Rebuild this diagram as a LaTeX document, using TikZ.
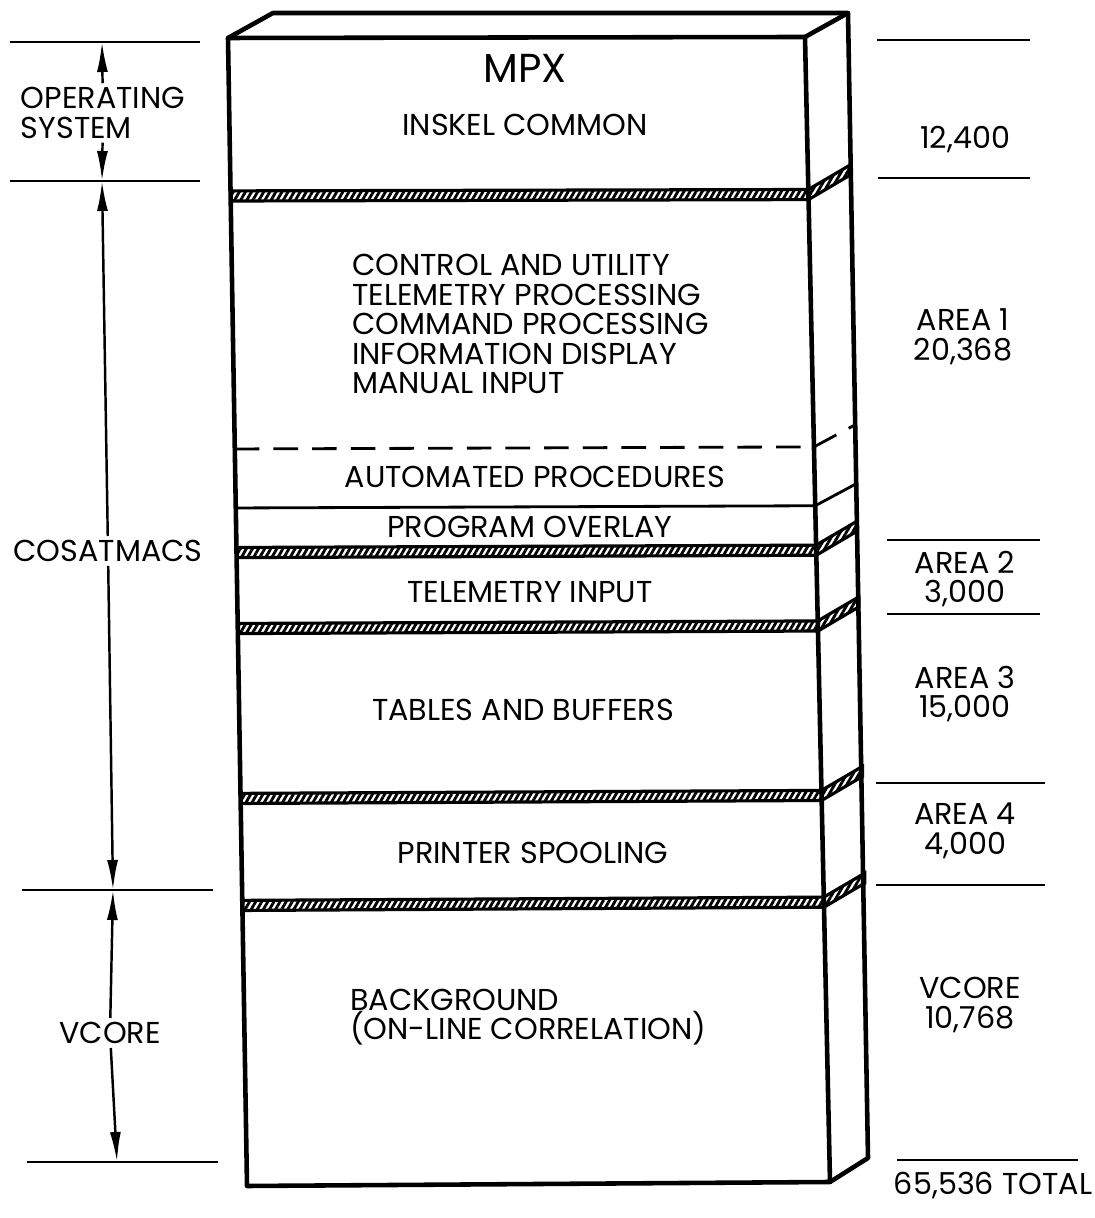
\documentclass[tikz,border=0pt]{standalone}
\usepackage{fontspec}
\setmainfont{Poppins}
\usetikzlibrary{calc,arrows.meta,patterns.meta}

\tikzset{
  edge/.style={line width=1.3pt, line join=round},
  band/.style={line width=0.9pt, pattern={Lines[angle=60,distance=1.5pt,line width=0.8pt]}},
  ruler/.style={line width=0.7pt},
  dim/.style={line width=0.7pt, -{Latex[length=3mm,width=1.1mm]}},
  lbl/.style={font=\fontsize{8.6}{8.4}\selectfont, inner sep=1pt},
}

\begin{document}
\begin{tikzpicture}
\useasboundingbox (0,0) rectangle (10.95,12.18);

% corners of the front face (the scan leans a little)
\coordinate (tl) at (2.28,11.80);
\coordinate (bl) at (2.47,0.32);
\coordinate (tr) at (8.05,11.81);
\coordinate (br) at (8.30,0.36);

% the block
\draw[edge] (tl) -- (tr) -- (br) -- (bl) -- cycle;
\draw[edge] (tl) -- ++(0.45,0.25) -- ($(tr)+(0.43,0.24)$) -- ($(br)+(0.38,0.24)$) -- (br);
\draw[edge] (tr) -- ++(0.43,0.24);

% hatched partitions
\foreach \a/\b in {0.1332/0.1420, 0.4438/0.4526, 0.5100/0.5188, 0.6580/0.6668, 0.7512/0.7600}{
  \draw[band] ($(tl)!\a!(bl)$) -- ($(tr)!\a!(br)$) -- ($(tr)!\b!(br)$) -- ($(tl)!\b!(bl)$) -- cycle;
  \draw[band] ($(tr)!\a!(br)$) -- ++(0.41,0.24) -- ++(0,-0.10) -- ($(tr)!\b!(br)$) -- cycle;
}
\draw[line width=0.8pt, dash pattern=on 7pt off 4pt] ($(tl)!0.358!(bl)$) -- ($(tr)!0.358!(br)$) -- ++(0.41,0.22);
\draw[line width=0.8pt] ($(tl)!0.4094!(bl)$) -- ($(tr)!0.4094!(br)$) -- ++(0.41,0.22);

% contents
\node[lbl, font=\fontsize{11.5}{12}\selectfont] (mpx) at (5.25,11.50) {MPX};
\node[lbl] (inskel) at (5.25,10.93) {INSKEL COMMON};
\node[lbl, align=left, anchor=west] (progs) at (3.48,8.94) {CONTROL AND UTILITY\\TELEMETRY PROCESSING\\COMMAND PROCESSING\\INFORMATION DISPLAY\\MANUAL INPUT};
\node[lbl] (auto) at (5.35,7.41) {AUTOMATED PROCEDURES};
\node[lbl] (overlay) at (5.30,6.91) {PROGRAM OVERLAY};
\node[lbl] (tlm) at (5.30,6.26) {TELEMETRY INPUT};
\node[lbl] (tables) at (5.23,5.08) {TABLES AND BUFFERS};
\node[lbl] (spool) at (5.33,3.65) {PRINTER SPOOLING};
\node[lbl, align=left, anchor=west] (bkg) at (3.46,2.01) {BACKGROUND\\(ON-LINE CORRELATION)};

% left side: extents
\draw[ruler] (0.10,11.76) -- (2.00,11.76);
\draw[ruler] (0.10,10.37) -- (2.00,10.37);
\draw[ruler] (0.22,3.28) -- (2.13,3.28);
\draw[ruler] (0.27,0.56) -- (2.18,0.56);
\coordinate (os top) at (1.02,11.76);
\coordinate (os bot) at (1.02,10.37);
\coordinate (cos bot) at (1.13,3.28);
\coordinate (vc bot) at (1.17,0.56);
\node[lbl, align=left] (os) at (1.03,11.05) {OPERATING\\SYSTEM};
\node[lbl] (cos) at (1.08,6.67) {COSATMACS};
\node[lbl] (vc) at (1.10,1.85) {VCORE};
\draw[dim] (os) -- (os top);
\draw[dim] (os) -- (os bot);
\draw[dim] (cos) -- (os bot);
\draw[dim] (cos) -- (cos bot);
\draw[dim] (vc) -- (cos bot);
\draw[dim] (vc) -- (vc bot);

% right side: sizes
\draw[ruler] (8.77,11.78) -- (10.30,11.78);
\draw[ruler] (8.78,10.40) -- (10.30,10.40);
\draw[ruler] (8.87,6.78) -- (10.40,6.78);
\draw[ruler] (8.87,6.04) -- (10.40,6.04);
\draw[ruler] (8.76,4.35) -- (10.45,4.35);
\draw[ruler] (8.76,3.33) -- (10.45,3.33);
\draw[ruler] (8.97,0.58) -- (10.78,0.58);
\node[lbl] (s os) at (9.65,10.78) {12,400};
\node[lbl, align=center] (s a1) at (9.63,8.81) {AREA 1\\20,368};
\node[lbl, align=center] (s a2) at (9.65,6.39) {AREA 2\\3,000};
\node[lbl, align=center] (s a3) at (9.65,5.24) {AREA 3\\15,000};
\node[lbl, align=center] (s a4) at (9.65,3.87) {AREA 4\\4,000};
\node[lbl, align=center] (s vc) at (9.70,2.13) {VCORE\\10,768};
\node[lbl] (total) at (9.93,0.32) {65,536 TOTAL};
\end{tikzpicture}
\end{document}
